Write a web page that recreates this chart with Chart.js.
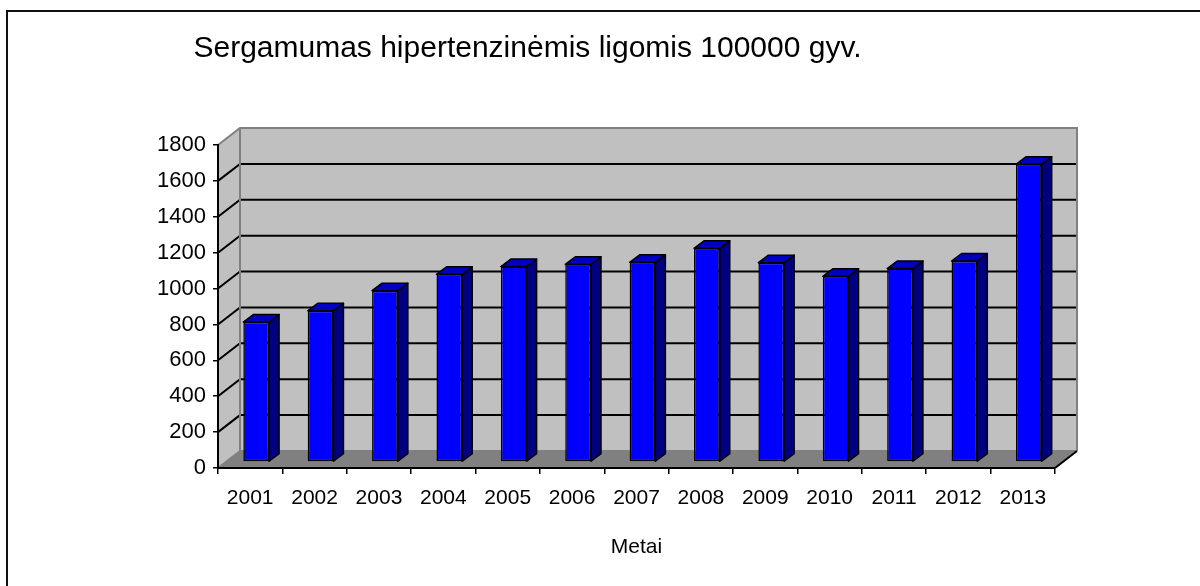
<!DOCTYPE html>
<html lang="lt">
<head>
    <meta charset="UTF-8">
    <title>Sergamumas hipertenzinėmis ligomis</title>
    <style>
        html, body {
            margin: 0;
            padding: 0;
            background: #fff;
            overflow: hidden;
        }
        #frame {
            position: absolute;
            left: 6px;
            top: 10px;
            width: 1300px;
            height: 700px;
            border: 2px solid #111;
        }
        #wrap {
            position: absolute;
            left: 0;
            top: 0;
            width: 1200px;
            height: 586px;
        }
    </style>
</head>
<body>
    <div id="frame"></div>
    <div id="wrap">
        <canvas id="barChart" width="1200" height="586"></canvas>
    </div>

    <script src="https://cdn.jsdelivr.net/npm/chart.js"></script>

    <script>
    const metai = ['2001', '2002', '2003', '2004', '2005', '2006', '2007', '2008', '2009', '2010', '2011', '2012', '2013'];
    const sergamumas = [780, 843, 955, 1046, 1089, 1102, 1113, 1191, 1111, 1035, 1078, 1120, 1659];
    const yMin = 0;
    const yMax = 1800;
    const yStep = 200;

    const FONT = "'Liberation Sans', Arial, sans-serif";
    const WALL_DX = 22, WALL_DY = -17;   // back wall offset
    const BAR_DX = 6, BAR_DY = -6;       // bars sit a bit behind the front plane
    const DEPTH_X = 10, DEPTH_Y = -7.5;  // bar depth

    // back wall, side wall, floor and gridlines
    const wallsPlugin = {
        id: 'walls',
        beforeDraw(chart) {
            const ctx = chart.ctx;
            const a = chart.chartArea;
            const y = chart.scales.y;
            ctx.save();

            // side wall
            ctx.fillStyle = '#c0c0c0';
            ctx.beginPath();
            ctx.moveTo(a.left, a.top);
            ctx.lineTo(a.left + WALL_DX, a.top + WALL_DY);
            ctx.lineTo(a.left + WALL_DX, a.bottom + WALL_DY);
            ctx.lineTo(a.left, a.bottom);
            ctx.closePath();
            ctx.fill();

            // back wall
            ctx.fillRect(a.left + WALL_DX, a.top + WALL_DY, a.right - a.left, a.bottom - a.top);

            // floor
            ctx.fillStyle = '#808080';
            ctx.beginPath();
            ctx.moveTo(a.left, a.bottom);
            ctx.lineTo(a.left + WALL_DX, a.bottom + WALL_DY);
            ctx.lineTo(a.right + WALL_DX, a.bottom + WALL_DY);
            ctx.lineTo(a.right, a.bottom);
            ctx.closePath();
            ctx.fill();

            // gridlines
            ctx.strokeStyle = '#000';
            ctx.lineWidth = 2;
            for (let v = yMin + yStep; v < yMax; v += yStep) {
                const py = y.getPixelForValue(v);
                ctx.beginPath();
                ctx.moveTo(a.left, py);
                ctx.lineTo(a.left + WALL_DX, py + WALL_DY);
                ctx.lineTo(a.right + WALL_DX, py + WALL_DY);
                ctx.stroke();
            }

            // wall edges
            ctx.strokeStyle = '#808080';
            ctx.lineWidth = 2;
            ctx.beginPath();
            ctx.moveTo(a.left, a.top);
            ctx.lineTo(a.left + WALL_DX, a.top + WALL_DY);
            ctx.lineTo(a.right + WALL_DX, a.top + WALL_DY);
            ctx.lineTo(a.right + WALL_DX, a.bottom + WALL_DY);
            ctx.moveTo(a.left + WALL_DX, a.top + WALL_DY);
            ctx.lineTo(a.left + WALL_DX, a.bottom + WALL_DY);
            ctx.lineTo(a.right + WALL_DX, a.bottom + WALL_DY);
            ctx.moveTo(a.left, a.bottom);
            ctx.lineTo(a.left + WALL_DX, a.bottom + WALL_DY);
            ctx.stroke();

            ctx.strokeStyle = '#000';
            ctx.beginPath();
            ctx.moveTo(a.right, a.bottom);
            ctx.lineTo(a.right + WALL_DX, a.bottom + WALL_DY);
            ctx.stroke();
            ctx.restore();
        },
        beforeDatasetsDraw(chart) {
            chart.ctx.save();
            chart.ctx.translate(BAR_DX, BAR_DY);
        },
        afterDatasetsDraw(chart) {
            const ctx = chart.ctx;
            ctx.lineWidth = 1.5;
            ctx.strokeStyle = '#000';
            ctx.lineJoin = 'round';
            chart.getDatasetMeta(0).data.forEach(bar => {
                const xl = bar.x - bar.width / 2;
                const xr = bar.x + bar.width / 2;
                // side
                ctx.fillStyle = '#000080';
                ctx.beginPath();
                ctx.moveTo(xr, bar.y);
                ctx.lineTo(xr + DEPTH_X, bar.y + DEPTH_Y);
                ctx.lineTo(xr + DEPTH_X, bar.base + DEPTH_Y);
                ctx.lineTo(xr, bar.base);
                ctx.closePath();
                ctx.fill();
                ctx.stroke();
                // top
                ctx.fillStyle = '#0000c0';
                ctx.beginPath();
                ctx.moveTo(xl, bar.y);
                ctx.lineTo(xl + DEPTH_X, bar.y + DEPTH_Y);
                ctx.lineTo(xr + DEPTH_X, bar.y + DEPTH_Y);
                ctx.lineTo(xr, bar.y);
                ctx.closePath();
                ctx.fill();
                ctx.stroke();
            });
            ctx.restore();
        }
    };

    const ctx = document.getElementById('barChart').getContext('2d');
    new Chart(ctx, {
        type: 'bar',
        data: {
            labels: metai,
            datasets: [{
                label: 'Sergamumas',
                data: sergamumas,
                backgroundColor: '#0000ff',
                borderColor: '#000',
                borderWidth: 1.5,
                borderSkipped: false,
                categoryPercentage: 1,
                barPercentage: 0.4
            }]
        },
        options: {
            responsive: false,
            animation: false,
            layout: {
                padding: { left: 0, right: 145, top: 0, bottom: 0 }
            },
            plugins: {
                legend: { display: false },
                tooltip: { enabled: false },
                title: {
                    display: true,
                    text: 'Sergamumas hipertenzinėmis ligomis 100000 gyv.',
                    color: '#000',
                    font: { family: FONT, size: 30, weight: 'normal' },
                    padding: { top: 31, bottom: 78 }
                }
            },
            scales: {
                x: {
                    afterFit: s => { s.height = 586 - 468; },
                    grid: {
                        drawOnChartArea: false,
                        drawTicks: true,
                        tickLength: 6,
                        color: '#000',
                        lineWidth: 1.5
                    },
                    border: { color: '#000', width: 2 },
                    ticks: {
                        color: '#000',
                        padding: 12,
                        font: { family: FONT, size: 21 }
                    },
                    title: {
                        display: true,
                        text: 'Metai',
                        color: '#000',
                        font: { family: FONT, size: 21 },
                        padding: { top: 0, bottom: 26 }
                    }
                },
                y: {
                    min: yMin,
                    max: yMax,
                    afterFit: s => { s.width = 218; },
                    grid: {
                        drawOnChartArea: false,
                        drawTicks: true,
                        tickLength: 5,
                        color: '#000',
                        lineWidth: 1.5
                    },
                    border: { color: '#000', width: 2 },
                    ticks: {
                        stepSize: yStep,
                        color: '#000',
                        padding: 7,
                        font: { family: FONT, size: 22 },
                        callback: v => String(v)
                    }
                }
            }
        },
        plugins: [wallsPlugin]
    });
    </script>
</body>
</html>
